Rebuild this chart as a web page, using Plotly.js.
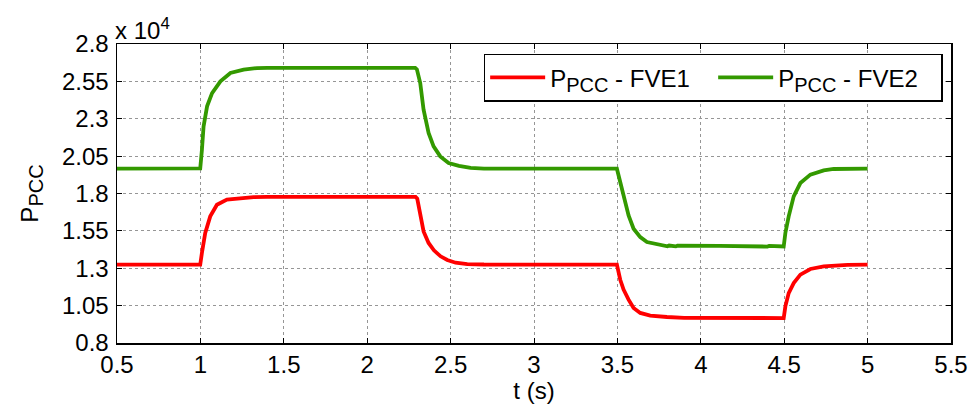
<!DOCTYPE html>
<html>
<head>
<meta charset="utf-8">
<script src="https://cdn.plot.ly/plotly-3.0.1.min.js"></script>
<style>html,body{margin:0;padding:0;background:#fff;}#chart{width:972px;height:404px;}</style>
</head>
<body>
<div id="chart"></div>
<script>
// Values in units of 1e4 (W)
var tFVE1 = [0.5, 0.999, 1.009, 1.029, 1.059, 1.099, 1.159, 1.239, 1.319, 1.4, 2.29, 2.30, 2.318, 2.338, 2.368, 2.40, 2.44, 2.48, 2.53, 2.60, 2.70,
             3.497, 3.517, 3.537, 3.567, 3.597, 3.637, 3.697, 3.797, 3.85, 3.86, 3.9, 4.497, 4.507, 4.527, 4.557, 4.597, 4.657, 4.737, 4.797, 4.88, 5.0];
var pFVE1 = [1.324, 1.324, 1.402, 1.536, 1.647, 1.725, 1.759, 1.770, 1.776, 1.777, 1.777, 1.765, 1.67, 1.546, 1.469, 1.42, 1.38, 1.355, 1.337, 1.328, 1.325,
             1.324, 1.223, 1.157, 1.090, 1.034, 1.001, 0.983, 0.974, 0.970, 0.974, 0.968, 0.967, 1.045, 1.134, 1.201, 1.257, 1.295, 1.312, 1.319, 1.323, 1.324];
var tFVE2 = [0.5, 0.999, 1.009, 1.019, 1.04, 1.07, 1.12, 1.18, 1.259, 1.339, 1.4, 2.288, 2.298, 2.318, 2.338, 2.368, 2.398, 2.438, 2.488, 2.55, 2.62, 2.70,
             3.497, 3.517, 3.537, 3.567, 3.597, 3.637, 3.677, 3.757, 3.80, 3.81, 3.85, 3.86, 4.10, 4.11, 4.40, 4.41, 4.497, 4.507, 4.527, 4.557, 4.597, 4.657, 4.737, 4.797, 5.0];
var pFVE2 = [1.966, 1.968, 2.09, 2.249, 2.383, 2.472, 2.55, 2.606, 2.628, 2.639, 2.640, 2.640, 2.63, 2.539, 2.361, 2.205, 2.115, 2.048, 2.004, 1.985, 1.972, 1.966,
             1.966, 1.873, 1.784, 1.653, 1.564, 1.508, 1.475, 1.453, 1.447, 1.452, 1.446, 1.451, 1.445, 1.450, 1.445, 1.450, 1.446, 1.536, 1.647, 1.781, 1.870, 1.926, 1.955, 1.964, 1.966];
var yTicks = [0.8, 1.05, 1.3, 1.55, 1.8, 2.05, 2.3, 2.55, 2.8];
var yTickText = ['0.8', '1.05', '1.3', '1.55', '1.8', '2.05', '2.3', '2.55', '2.8'];
var xTicks = [0.5, 1, 1.5, 2, 2.5, 3, 3.5, 4, 4.5, 5, 5.5];
var xTickText = ['0.5', '1', '1.5', '2', '2.5', '3', '3.5', '4', '4.5', '5', '5.5'];
var SUB = function (s) { return '<sub><span style="font-size:20px">' + s + '</span></sub>'; };
var seriesNames = ['P' + SUB('PCC') + ' - FVE1', 'P' + SUB('PCC') + ' - FVE2'];

var FONT = 'Liberation Sans, Arial, sans-serif';
var FS = 24;
var data = [
  {x: tFVE1, y: pFVE1, type: 'scatter', mode: 'lines', name: seriesNames[0],
   line: {color: 'rgb(255,0,0)', width: 3.8}},
  {x: tFVE2, y: pFVE2, type: 'scatter', mode: 'lines', name: seriesNames[1],
   line: {color: 'rgb(51,153,0)', width: 3.8}}
];
var axisCommon = {
  showline: true, linecolor: '#000', linewidth: 1.5, mirror: 'ticks',
  ticks: 'inside', ticklen: 5, tickcolor: '#000', tickwidth: 1,
  showgrid: true, gridcolor: 'rgb(150,150,150)', griddash: 'dot', gridwidth: 1,
  zeroline: false, tickfont: {family: FONT, size: FS, color: '#000'}
};
var layout = {
  width: 972, height: 404,
  margin: {l: 117, r: 21, t: 44, b: 61},
  paper_bgcolor: '#fff', plot_bgcolor: '#fff',
  font: {family: FONT, size: FS, color: '#000'},
  xaxis: Object.assign({}, axisCommon, {
    range: [0.5, 5.5], tickmode: 'array', tickvals: xTicks, ticktext: xTickText,
    ticklabelstandoff: 0,
    title: {text: 't (s)', font: {family: FONT, size: FS, color: '#000'}, standoff: 0}
  }),
  yaxis: Object.assign({}, axisCommon, {
    range: [0.8, 2.8], tickmode: 'array', tickvals: yTicks, ticktext: yTickText,
    ticklabelstandoff: 2,
    title: {text: 'P' + SUB('PCC'), font: {family: FONT, size: FS, color: '#000'}, standoff: 16}
  }),
  showlegend: true,
  legend: {
    orientation: 'h', x: 0.99, xanchor: 'right', y: 0.967, yanchor: 'top',
    bgcolor: '#fff', bordercolor: '#000', borderwidth: 1.5,
    font: {family: FONT, size: FS, color: '#000'}, itemwidth: 55,
    entrywidth: 158, tracegroupgap: 0
  },
  annotations: [{
    text: 'x 10<sup>4</sup>', xref: 'paper', yref: 'paper', x: 0, y: 1,
    xanchor: 'left', yanchor: 'bottom', showarrow: false, xshift: -4, yshift: -2,
    font: {family: FONT, size: FS, color: '#000'}
  }]
};
Plotly.newPlot('chart', data, layout, {displayModeBar: false, staticPlot: true});
</script>
</body>
</html>
